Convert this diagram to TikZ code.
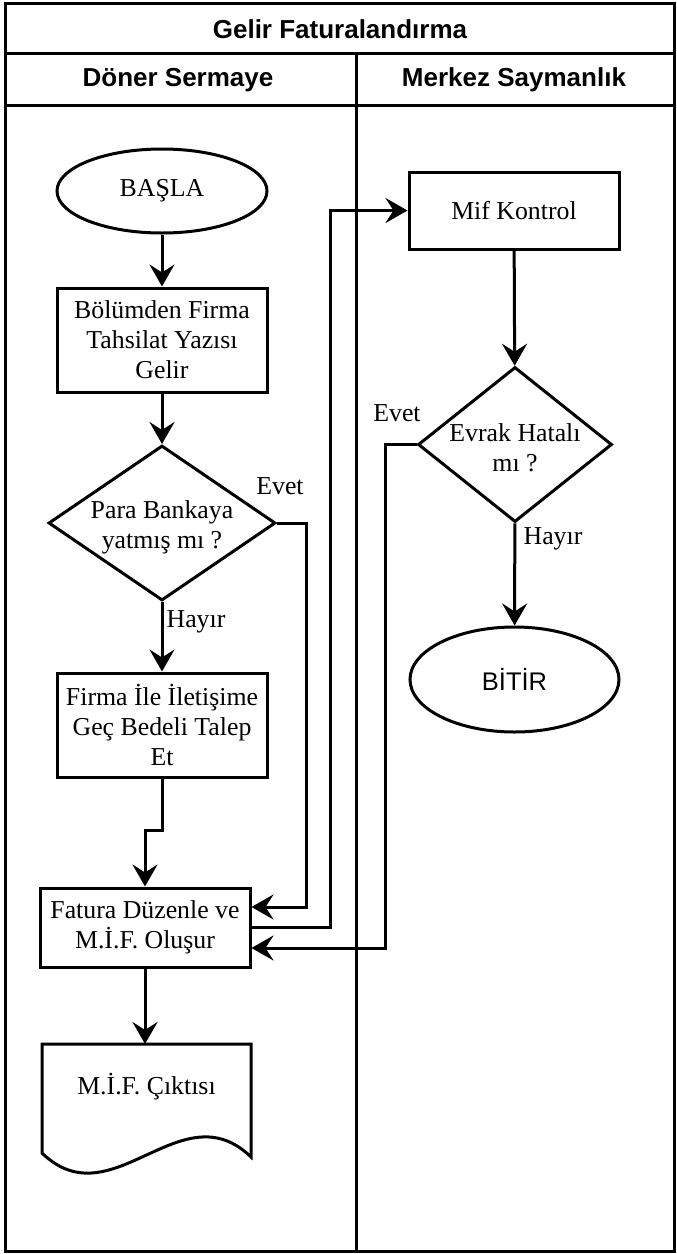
\documentclass[tikz,border=0pt]{standalone}
\usepackage{fontspec}
\setmainfont{Liberation Serif}
\newfontfamily\arialfont{Liberation Sans}
\usetikzlibrary{shapes.geometric,arrows.meta}
\begin{document}
\begin{tikzpicture}[x=1pt,y=-1pt,
  lw/.style={line width=3pt},
  txtfont/.style={font=\fontsize{25.8}{30}\selectfont},
  proc/.style={draw,lw,rectangle,minimum width=210pt,minimum height=104pt,inner sep=0pt,align=center,txtfont},
  term/.style={draw,lw,ellipse,minimum width=210pt,minimum height=84pt,inner sep=0pt,txtfont},
  dia/.style={draw,lw,diamond,inner sep=0pt},
  txt/.style={align=center,inner sep=0pt,txtfont},
  head/.style={inner sep=0pt,font=\arialfont\bfseries\fontsize{26}{30}\selectfont},
  arr/.style={lw,-{Stealth[length=22pt,width=25pt,inset=8pt]}},
  conn/.style={lw}
]
\useasboundingbox (0,0) rectangle (677,1254);
% frame
\draw[lw] (5,3) rectangle (674,1251);
\draw[lw] (5,53) -- (674,53);
\draw[lw] (5,105) -- (674,105);
\draw[lw] (356,53) -- (356,1251);
\node[head] (title) at (340,29) {Gelir Faturalandırma};
\node[head] (lane1) at (178,80) {Döner Sermaye};
\node[head] (lane2) at (514,80) {Merkez Saymanlık};
% left lane
\node[term] (start) at (162,191) {BAŞLA};
\node[proc] (b1) at (162,340) {Bölümden Firma\\Tahsilat Yazısı\\Gelir};
\node[dia,minimum width=227pt,minimum height=155pt] (d1) at (162,523) {};
\node[txt] (d1t) at (162,527) {Para Bankaya\\yatmış mı ?};
\node[proc] (b2) at (162,725) {Firma İle İletişime\\Geç Bedeli Talep\\Et};
\node[proc,minimum height=79pt] (b3) at (145,927.5) {Fatura Düzenle ve\\M.İ.F. Oluşur};
\coordinate (doctop) at (146.5,1044);
\draw[lw] (42,1153) -- (42,1044) -- (251,1044) -- (251,1157)
  .. controls (181,1089) and (112,1221) .. (42,1153) -- cycle;
\node[txt] (doct) at (146.5,1087) {M.İ.F. Çıktısı};
% right lane
\node[proc,minimum height=77pt] (mif) at (514,210.5) {Mif Kontrol};
\node[dia,minimum width=194pt,minimum height=155pt] (d2) at (515,444.5) {};
\node[txt] (d2t) at (515,448) {Evrak Hatalı\\mı ?};
\node[term,minimum width=209pt,minimum height=105pt,font=\arialfont\fontsize{25.5}{30}\selectfont] (end) at (514.5,679.5) {BİTİR};
% labels
\node[txt] (l1) at (280,486) {Evet};
\node[txt] (l2) at (196,622) {Hayır};
\node[txt] (l3) at (397,413) {Evet};
\node[txt] (l4) at (553,539) {Hayır};
% coordinates
\coordinate (e1) at (306,907);
\coordinate (e2) at (385,948);
\coordinate (cm) at (330,0);
% connectors
\draw[arr] (start) -- (b1);
\draw[arr] (b1) -- (d1);
\draw[arr] (d1) -- (b2);
\draw[arr] (b2.south) |- ([yshift=56pt]b3.north) -- (b3.north);
\draw[arr] (d1.east) -| (e1) -- (e1 -| b3.east);
\draw[arr] (b3.east) -| (cm |- mif.west) -- (mif.west);
\draw[arr] (d2.west) -| (e2) -- (e2 -| b3.east);
\draw[arr] (mif) -- (d2);
\draw[arr] (d2) -- (end);
\draw[arr] (b3.south) -- (b3.south |- doctop);
\end{tikzpicture}
\end{document}
